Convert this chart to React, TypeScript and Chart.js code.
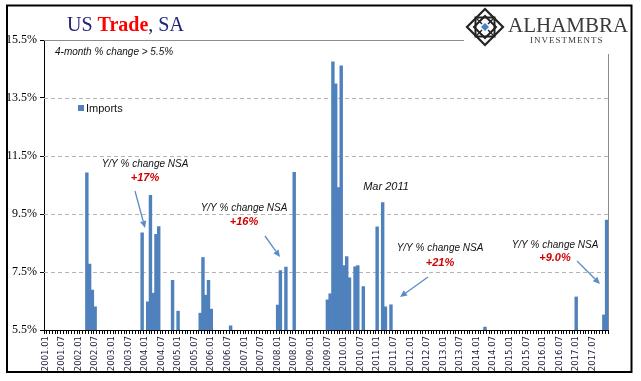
import React, { useEffect, useRef } from "react";
import { Chart, registerables } from "chart.js";

Chart.register(...registerables);

// ---------- data ----------
const years = [2001, 2002, 2003, 2004, 2005, 2006, 2007, 2008, 2009, 2010, 2011, 2012, 2013, 2014, 2015, 2016, 2017];
const monthCodes = ["01", "02", "03", "04", "05", "06", "07", "08", "09", "10", "11", "12"];
const categories: string[] = years.flatMap((y) => monthCodes.map((m) => `${y}.${m}`));

// months where the 4-month % change exceeded 5.5%
const barMonths = [
  "2002.04", "2002.05", "2002.06", "2002.07",
  "2003.12", "2004.02", "2004.03", "2004.04", "2004.05", "2004.06",
  "2004.11", "2005.01",
  "2005.09", "2005.10", "2005.11", "2005.12", "2006.01",
  "2006.08",
  "2008.01", "2008.02", "2008.04", "2008.07",
  "2009.07", "2009.08", "2009.09", "2009.10", "2009.11", "2009.12",
  "2010.01", "2010.02", "2010.03", "2010.05", "2010.06", "2010.08",
  "2011.01", "2011.03", "2011.04", "2011.06",
  "2014.04",
  "2017.01", "2017.11", "2017.12",
];
const barValues = [
  10.92, 7.77, 6.88, 6.3,
  8.85, 6.47, 10.14, 6.77, 8.8, 9.07,
  7.21, 6.15,
  6.08, 8.0, 6.7, 7.21, 6.22,
  5.64,
  6.36, 7.55, 7.67, 10.94,
  6.54, 6.75, 14.75, 13.99, 10.41, 14.61,
  7.72, 8.03, 7.3, 7.68, 7.72, 7.0,
  9.06, 9.89, 6.3, 6.37,
  5.6,
  6.64, 6.02, 9.29,
];
const yTicks = [5.5, 7.5, 9.5, 11.5, 13.5, 15.5];
const labelEvery = 6;

const seriesName = "Imports";
const subtitle = "4-month % change > 5.5%";
const noteTexts = ["Y/Y % change NSA", "Y/Y % change NSA", "Y/Y % change NSA", "Y/Y % change NSA"];
const noteValues = ["+17%", "+16%", "+21%", "+9.0%"];
const marLabel = "Mar 2011";

const BLUE = "#4F81BD";

function drawArrow(ctx: CanvasRenderingContext2D, x1: number, y1: number, x2: number, y2: number) {
  const ang = Math.atan2(y2 - y1, x2 - x1);
  const head = 7;
  const hw = 3.2;
  const bx = x2 - head * Math.cos(ang);
  const by = y2 - head * Math.sin(ang);
  ctx.save();
  ctx.strokeStyle = "#5B8BC8";
  ctx.fillStyle = "#5B8BC8";
  ctx.lineWidth = 1.3;
  ctx.beginPath();
  ctx.moveTo(x1, y1);
  ctx.lineTo(bx, by);
  ctx.stroke();
  ctx.beginPath();
  ctx.moveTo(x2, y2);
  ctx.lineTo(bx + hw * Math.sin(ang), by - hw * Math.cos(ang));
  ctx.lineTo(bx - hw * Math.sin(ang), by + hw * Math.cos(ang));
  ctx.closePath();
  ctx.fill();
  ctx.restore();
}

function drawLogo(ctx: CanvasRenderingContext2D) {
  ctx.save();
  ctx.fillStyle = "#fff";
  ctx.fillRect(464, 7, 166, 47);
  const cx = 485, cy = 27, r = 18;
  ctx.strokeStyle = "#222";
  ctx.lineWidth = 2.2;
  ctx.beginPath();
  ctx.moveTo(cx, cy - r);
  ctx.lineTo(cx + r, cy);
  ctx.lineTo(cx, cy + r);
  ctx.lineTo(cx - r, cy);
  ctx.closePath();
  ctx.stroke();
  const s = 9.5;
  ctx.lineWidth = 2;
  ctx.strokeRect(cx - s, cy - s, 2 * s, 2 * s);
  const d = 11;
  ctx.beginPath();
  ctx.moveTo(cx, cy - d);
  ctx.lineTo(cx + d, cy);
  ctx.lineTo(cx, cy + d);
  ctx.lineTo(cx - d, cy);
  ctx.closePath();
  ctx.stroke();
  ctx.lineWidth = 1.4;
  ctx.beginPath();
  ctx.moveTo(cx - r / 2, cy - r / 2);
  ctx.lineTo(cx + r / 2, cy + r / 2);
  ctx.moveTo(cx + r / 2, cy - r / 2);
  ctx.lineTo(cx - r / 2, cy + r / 2);
  ctx.stroke();
  ctx.fillStyle = "#fff";
  ctx.beginPath();
  ctx.moveTo(cx, cy - 6);
  ctx.lineTo(cx + 6, cy);
  ctx.lineTo(cx, cy + 6);
  ctx.lineTo(cx - 6, cy);
  ctx.closePath();
  ctx.fill();
  ctx.fillStyle = "#4A7FC4";
  ctx.beginPath();
  ctx.moveTo(cx, cy - 4);
  ctx.lineTo(cx + 4, cy);
  ctx.lineTo(cx, cy + 4);
  ctx.lineTo(cx - 4, cy);
  ctx.closePath();
  ctx.fill();
  ctx.fillStyle = "#3a3a3a";
  ctx.textBaseline = "alphabetic";
  ctx.textAlign = "left";
  ctx.font = "21px 'Liberation Serif'";
  ctx.fillText("ALHAMBRA", 508, 32);
  ctx.font = "9px 'Liberation Serif'";
  (ctx as any).letterSpacing = "1px";
  ctx.fillText("INVESTMENTS", 530, 43);
  (ctx as any).letterSpacing = "0px";
  ctx.restore();
}

// annotation placement (text centre, value centre, arrow start -> end)
const notePos = [
  { tx: 145, ty: 164, vy: 178, x1: 135, y1: 191, x2: 145, y2: 228 },
  { tx: 244, ty: 208, vy: 222, x1: 265, y1: 236, x2: 280, y2: 257 },
  { tx: 440, ty: 248, vy: 263, x1: 428, y1: 277, x2: 400, y2: 297 },
  { tx: 555, ty: 245, vy: 258, x1: 577, y1: 261, x2: 600, y2: 284 },
];

const decor = {
  id: "decor",
  beforeDatasetsDraw(chart: any) {
    const { ctx, chartArea: a, scales } = chart;
    const y = scales.y;
    ctx.save();
    ctx.lineWidth = 1;
    ctx.strokeStyle = "#b4b4b4";
    ctx.setLineDash([4, 3]);
    yTicks.slice(1, -1).forEach((v) => {
      const py = Math.round(y.getPixelForValue(v)) + 0.5;
      ctx.beginPath();
      ctx.moveTo(a.left, py);
      ctx.lineTo(a.right, py);
      ctx.stroke();
    });
    ctx.setLineDash([]);
    ctx.strokeStyle = "#8c8c8c";
    const top = Math.round(y.getPixelForValue(yTicks[yTicks.length - 1])) + 0.5;
    ctx.beginPath();
    ctx.moveTo(a.left, top);
    ctx.lineTo(a.right, top);
    ctx.moveTo(Math.round(a.right) + 0.5, top);
    ctx.lineTo(Math.round(a.right) + 0.5, a.bottom);
    ctx.stroke();
    ctx.restore();
  },
  afterDraw(chart: any) {
    const { ctx } = chart;
    ctx.save();
    drawLogo(ctx);

    // title
    ctx.textBaseline = "alphabetic";
    ctx.textAlign = "left";
    let tx = 67;
    const ty = 31;
    ctx.font = "20px 'Liberation Serif'";
    ctx.fillStyle = "#1F2278";
    ctx.fillText("US ", tx, ty);
    tx += ctx.measureText("US ").width;
    ctx.font = "bold 20px 'Liberation Serif'";
    ctx.fillStyle = "#FF0000";
    ctx.fillText("Trade", tx, ty);
    tx += ctx.measureText("Trade").width;
    ctx.font = "20px 'Liberation Serif'";
    ctx.fillStyle = "#1F2278";
    ctx.fillText(", SA", tx, ty);

    // subtitle
    ctx.font = "italic 10px 'Liberation Sans'";
    ctx.fillStyle = "#111";
    ctx.textBaseline = "middle";
    ctx.fillText(subtitle, 55, 52);

    // legend
    ctx.fillStyle = BLUE;
    ctx.fillRect(78, 105, 6, 6);
    ctx.fillStyle = "#111";
    ctx.font = "11px 'Liberation Sans'";
    ctx.fillText(seriesName, 86, 108.5);

    // notes
    notePos.forEach((p, i) => {
      ctx.textAlign = "center";
      ctx.textBaseline = "middle";
      ctx.font = "italic 10px 'Liberation Sans'";
      ctx.fillStyle = "#111";
      ctx.fillText(noteTexts[i], p.tx, p.ty);
      ctx.font = "italic bold 11px 'Liberation Sans'";
      ctx.fillStyle = "#D00000";
      ctx.fillText(noteValues[i], p.tx, p.vy);
      drawArrow(ctx, p.x1, p.y1, p.x2, p.y2);
    });

    // Mar 2011 label
    ctx.textAlign = "center";
    ctx.font = "italic 11px 'Liberation Sans'";
    ctx.fillStyle = "#111";
    ctx.fillText(marLabel, 386, 187);

    // outer frame
    ctx.strokeStyle = "#000";
    ctx.lineWidth = 2;
    ctx.strokeRect(7, 5.5, 624.5, 366.5);
    ctx.restore();
  },
};

export default function App() {
  const ref = useRef<HTMLCanvasElement | null>(null);
  useEffect(() => {
    if (!ref.current) return;
    const data = categories.map((c) => {
      const k = barMonths.indexOf(c);
      return k >= 0 ? barValues[k] : null;
    });
    const chart = new Chart(ref.current, {
      type: "bar",
      data: {
        labels: categories,
        datasets: [
          {
            label: seriesName,
            data,
            backgroundColor: BLUE,
            borderWidth: 0,
            barPercentage: 1,
            categoryPercentage: 1,
          },
        ],
      },
      options: {
        responsive: false,
        animation: false,
        devicePixelRatio: 1,
        layout: { padding: { left: 0, right: 33, top: 40, bottom: 0 } },
        plugins: { legend: { display: false }, tooltip: { enabled: false }, title: { display: false } },
        scales: {
          x: {
            type: "category",
            offset: true,
            grid: { display: true, drawOnChartArea: false, drawTicks: true, tickLength: 4, color: "#000", tickColor: "#000", offset: true },
            border: { display: true, color: "#000", width: 1 },
            ticks: {
              autoSkip: false,
              maxRotation: 90,
              minRotation: 90,
              padding: 2,
              color: "#1a1a3a",
              font: { family: "'DejaVu Sans'", size: 8.5 },
              callback: (_v: any, i: number) => (i % labelEvery === 0 ? categories[i] : ""),
            },
            afterFit: (s: any) => {
              s.height = 51;
            },
          },
          y: {
            min: yTicks[0],
            max: yTicks[yTicks.length - 1],
            grid: { drawOnChartArea: false, tickLength: 4, color: "#000", tickColor: "#000" },
            border: { display: true, color: "#000", width: 1 },
            ticks: {
              stepSize: 2,
              padding: 3,
              color: "#000",
              font: { family: "'Liberation Serif'", size: 12 },
              callback: (v: any) => Number(v).toFixed(1) + "%",
            },
            afterFit: (s: any) => {
              s.width = 44;
            },
          },
        },
      },
      plugins: [decor],
    } as any);
    return () => chart.destroy();
  }, []);
  return (
    <div style={{ position: "fixed", left: 0, top: 0, width: 641, height: 381, background: "#fff" }}>
      <canvas ref={ref} width={641} height={381} style={{ display: "block" }} />
    </div>
  );
}
